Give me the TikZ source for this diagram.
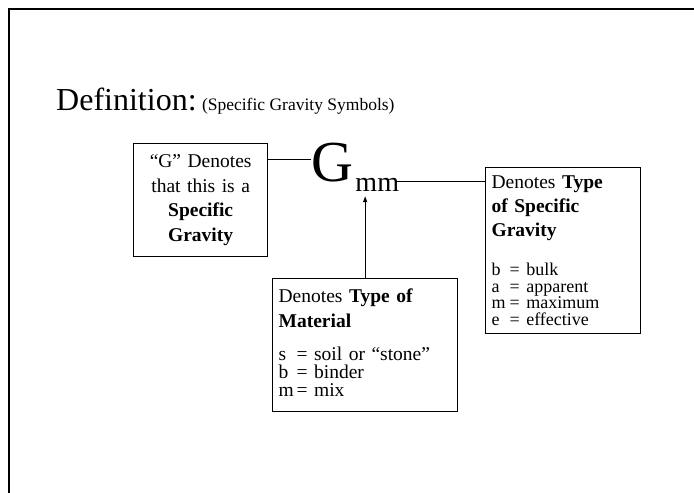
\documentclass[tikz,border=0pt]{standalone}
\usepackage{fontspec}
\setmainfont{Liberation Serif}
\usetikzlibrary{positioning,arrows.meta}

\newcommand{\symkey}[1]{\makebox[18pt][l]{#1}}
\newcommand{\keysize}{\fontsize{18}{16.5}\selectfont}

\begin{document}
\begin{tikzpicture}[
  x=1pt, y=-1pt,
  >={Triangle[length=6pt,width=4pt]},
  note/.style={draw, line width=1.3pt, font=\fontsize{19.5}{24}\selectfont,
               inner xsep=6pt, inner ysep=8.5pt},
  link/.style={draw, line width=1.1pt},
]
  \useasboundingbox (0,0) rectangle (694,493);
  % slide frame
  \draw[line width=2pt] (694,9) -- (9,9) -- (9,493);

  % Heading
  \node[anchor=base west, inner sep=0, font=\fontsize{32}{32}\selectfont] (title) at (56,110) {Definition:};
  \node[right=5pt of title.base east, anchor=base west, inner sep=0,
        font=\fontsize{17.5}{17.5}\selectfont] (subtitle) {(Specific Gravity Symbols)};

  % Symbol
  \node[anchor=base west, inner sep=0, font=\fontsize{58}{58}\selectfont] (gsym) at (311,181) {G};
  \node[anchor=base west, inner sep=0, font=\fontsize{28}{28}\selectfont] (sub) at ([xshift=2pt,yshift=-10pt]gsym.base east) {mm};

  % Boxes
  \node[note, align=center, text width=122pt, minimum height=113pt, anchor=north west,
        font=\fontsize{19.5}{24.5}\selectfont] (lbox) at (133,143)
    {“G” Denotes\\ that this is a\\ \textbf{Specific}\\ \textbf{Gravity}};
  \node[note, align=left, text width=173pt, anchor=north west, inner ysep=10pt] (mbox) at (272,278)
    {Denotes \textbf{Type of}\\[1pt] \textbf{Material}\\[9pt]
     \symkey{s}= soil or “stone”\\[-6pt] \symkey{b}= binder\\[-6pt] \symkey{m}= mix\rule[-5pt]{0pt}{5pt}};
  \node[note, align=left, text width=143pt, anchor=north west] (rbox) at (485,167)
    {Denotes \textbf{Type}\\ \textbf{of Specific}\\ \textbf{Gravity}\\[21pt]
     \keysize\symkey{b}= bulk\\ \symkey{a}= apparent\\ \symkey{m}= maximum\\ \symkey{e}= effective\par};

  % Connectors
  \coordinate (tip) at ([yshift=-5pt]mbox.north |- sub.south);
  \draw[link] ([yshift=3pt]gsym.west) -- ([yshift=3pt]gsym.west -| lbox.east);
  \draw[link] ([xshift=-4pt,yshift=3pt]sub.east) -- ([yshift=3pt]sub.east -| rbox.west);
  \draw[link, ->] (mbox.north) -- (tip);
\end{tikzpicture}
\end{document}
